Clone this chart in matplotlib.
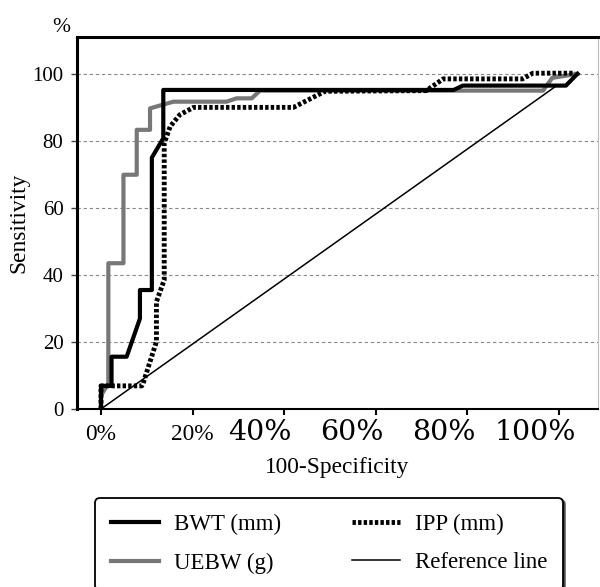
import matplotlib
matplotlib.use("Agg")
import matplotlib.pyplot as plt
from matplotlib.lines import Line2D
from matplotlib.transforms import ScaledTranslation

plt.rcParams['font.family'] = ['Liberation Serif', 'DejaVu Serif']

# ROC curves (x = 100-specificity %, y = sensitivity %)
bwt_x = [0, 0, 2.3, 2.3, 5.6, 8.5, 8.5, 11.1, 11.1, 13.6, 13.6, 77.0, 79.0, 101.5, 104.0]
bwt_y = [0, 6.9, 6.9, 15.6, 15.6, 27.0, 35.5, 35.5, 75.0, 80.8, 95.2, 95.2, 96.5, 96.5, 100.0]

uebw_x = [0, 0, 1.6, 1.6, 4.9, 4.9, 7.8, 7.8, 10.7, 10.7, 15.8, 27.4, 29.6, 32.9, 34.7, 96.5, 98.5, 104.0]
uebw_y = [0, 4.0, 7.7, 43.5, 43.5, 69.9, 69.9, 83.3, 83.3, 89.7, 91.7, 91.7, 92.7, 92.7, 95.0, 95.0, 98.8, 100.0]

ipp_x = [0, 0, 8.9, 9.2, 12.1, 12.1, 13.8, 13.8, 15.1, 17.2, 20.2, 42.0, 48.9, 71.0, 74.7, 92.0, 94.3, 103.5]
ipp_y = [0, 6.9, 6.9, 7.7, 20.1, 32.0, 38.5, 79.3, 84.3, 87.8, 90.0, 90.0, 94.8, 95.0, 98.5, 98.5, 100.2, 100.2]

ref_x = [0, 99.6]
ref_y = [0, 96.6]

x_ticks = [0, 20, 40, 60, 80, 100]
x_labels = ['0%', '20%', '40%', '60%', '80%', '100%']
y_ticks = [0, 20, 40, 60, 80, 100]

fig = plt.figure(figsize=(6, 5.87), dpi=100)
ax = fig.add_axes([77/600, 1-409/587, 521/600, 372/587])

for y in y_ticks[1:]:
    ax.axhline(y, color='#888888', lw=0.8, ls=(0, (3, 2.5)), zorder=1)

ax.plot(uebw_x, uebw_y, color='#777777', lw=3.0, zorder=2)
ax.plot(bwt_x, bwt_y, color='black', lw=3.0, zorder=3)
ax.plot(ipp_x, ipp_y, color='black', lw=3.5, ls=(0, (0.7, 0.45)), zorder=4)
ax.plot(ref_x, ref_y, color='black', lw=1.1, zorder=5)

ax.set_xlim(-5.24, 108.5)
ax.set_ylim(0, 111)

ax.set_yticks(y_ticks)
ax.tick_params(axis='y', length=4.3, width=1, color='#444444', pad=5.5, labelsize=15)
ax.set_xticks(x_ticks)
ax.set_xticklabels(x_labels)
ax.tick_params(axis='x', length=4.3, width=1.5, color='black', pad=18)
# the wider labels sit a little left of their ticks in the original
shift = ScaledTranslation(-0.24, 0, fig.dpi_scale_trans)
for i, lab in enumerate(ax.get_xticklabels()):
    lab.set_verticalalignment('baseline')
    if i < 2:
        lab.set_fontsize(16.8)
    else:
        lab.set_fontfamily('DejaVu Serif')
        lab.set_fontsize(20.5)
        lab.set_transform(lab.get_transform() + shift)

ax.spines['left'].set_linewidth(2.2)
ax.spines['top'].set_linewidth(2.2)
ax.spines['bottom'].set_linewidth(1.5)
ax.spines['right'].set_linewidth(0.8)
ax.spines['right'].set_color('#bbbbbb')

ax.set_xlabel('100-Specificity', fontsize=16.8, labelpad=8)
ax.set_ylabel('Sensitivity', fontsize=16.8, labelpad=2)
fig.text(61/600, 1-27/587, '%', fontsize=15.5, ha='center', va='center')

handles = [
    Line2D([], [], color='black', lw=3.0),
    Line2D([], [], color='#777777', lw=3.0),
    Line2D([], [], color='black', lw=3.5, ls=(0, (0.7, 0.45))),
    Line2D([], [], color='black', lw=1.1),
]
names = ['BWT (mm)', 'UEBW (g)', 'IPP (mm)', 'Reference line']
leg = fig.legend(handles, names, loc='upper left',
                 bbox_to_anchor=(95/600, 1-498/587, 468/600, 0), mode='expand',
                 ncol=2, fontsize=16.5, handlelength=2.1, handletextpad=0.65,
                 labelspacing=0.75, borderpad=0.7, borderaxespad=0,
                 fancybox=True, framealpha=1, edgecolor='black',
                 shadow={'ox': 1.5, 'oy': -1.5, 'shade': 1.0})
leg.get_frame().set_linewidth(1.3)

fig.savefig('out.png', dpi=100)
